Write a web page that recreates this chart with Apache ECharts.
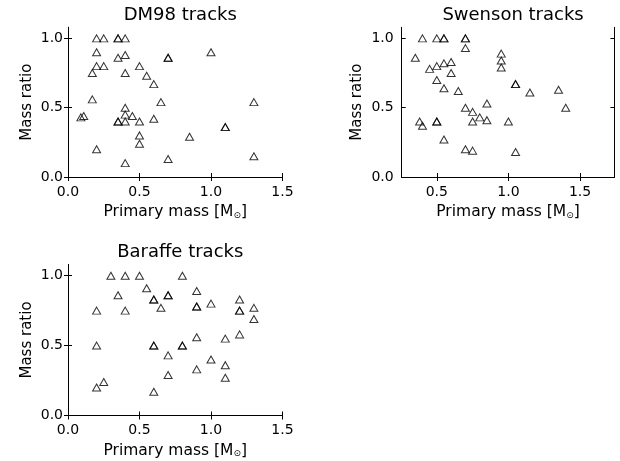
<!DOCTYPE html>
<html>
<head>
<meta charset="utf-8">
<script src="https://cdn.jsdelivr.net/npm/echarts@6/dist/echarts.min.js"></script>
<style>html,body{margin:0;padding:0;background:#fff;}#c{width:620px;height:461px;}</style>
</head>
<body>
<div id="c"></div>
<script>
// ---- data ----
const titles = ['DM98 tracks', 'Swenson tracks', 'Baraffe tracks'];
const xTickLabels1 = [0.0, 0.5, 1.0, 1.5];
const xTickLabels2 = [0.5, 1.0, 1.5];
const yTickLabels = [0.0, 0.5, 1.0];

const dm98Mass  = [0.2,0.25,0.35,0.35,0.4, 0.2,0.35,0.4,0.7,0.7,1.0, 0.2,0.25,0.17,0.4,0.5,0.55,0.6, 0.17,0.4,0.65,1.3, 0.09,0.11,0.4,0.45, 0.35,0.35,0.4,0.5,0.6, 0.5,0.5,0.85,1.1,1.1, 0.2,0.4,0.7,1.3];
const dm98Ratio = [1.0,1.0,1.0,1.0,1.0, 0.9,0.86,0.88,0.86,0.86,0.9, 0.8,0.8,0.75,0.75,0.8,0.73,0.67, 0.56,0.5,0.54,0.54, 0.43,0.44,0.45,0.44, 0.4,0.4,0.4,0.4,0.42, 0.3,0.24,0.29,0.36,0.36, 0.2,0.1,0.13,0.15];

const swensonMass  = [0.4,0.5,0.55,0.55,0.7,0.7,0.7, 0.35,0.45,0.5,0.55,0.6,0.6,0.5,0.55,0.65, 0.95,0.95,0.95,1.05,1.05,1.15,1.35,1.4, 0.38,0.4,0.5,0.5,0.55, 0.7,0.75,0.8,0.85,0.85,0.75,1.0, 0.7,0.75,1.05];
const swensonRatio = [1.0,1.0,1.0,1.0,1.0,1.0,0.93, 0.86,0.78,0.8,0.82,0.83,0.75,0.7,0.64,0.62, 0.89,0.84,0.79,0.67,0.67,0.61,0.63,0.5, 0.4,0.37,0.4,0.4,0.27, 0.5,0.47,0.43,0.53,0.41,0.4,0.4, 0.2,0.19,0.18];

const baraffeMass  = [0.3,0.4,0.5,0.8,0.55,0.35,0.6,0.6,0.7,0.7,0.65,0.9,0.9,0.9,1.0,1.2,1.2,1.2,1.3,1.3,0.2,0.4, 0.2,0.6,0.6,0.8,0.8,0.7,0.9,1.1,1.2,1.0,1.1,1.1,0.9,0.7,0.2,0.25,0.6];
const baraffeRatio = [1.0,1.0,1.0,1.0,0.91,0.86,0.83,0.83,0.86,0.86,0.77,0.89,0.78,0.78,0.8,0.83,0.75,0.75,0.77,0.69,0.75,0.75, 0.5,0.5,0.5,0.5,0.5,0.43,0.56,0.55,0.58,0.4,0.36,0.27,0.33,0.29,0.2,0.24,0.17];

const panels = [
  {mass: dm98Mass, ratio: dm98Ratio, xmin: 0, xmax: 1.5, xticks: xTickLabels1,
   grid: {left: 68, top: 27.3, width: 214.5, height: 149.7}, ylabMargin: 5, yNameGap: 33, titleTop: 1},
  {mass: swensonMass, ratio: swensonRatio, xmin: 0.255, xmax: 1.74, xticks: xTickLabels2,
   grid: {left: 401.7, top: 27.3, width: 212.7, height: 149.7}, ylabMargin: 8, yNameGap: 37, titleTop: 1},
  {mass: baraffeMass, ratio: baraffeRatio, xmin: 0, xmax: 1.5, xticks: xTickLabels1,
   grid: {left: 68, top: 264.5, width: 214.5, height: 151}, ylabMargin: 5, yNameGap: 33, titleTop: 238}
];

const FONT = 'DejaVu Sans';
const fmt = v => Number(v).toFixed(1);
const tickStyle = {show: true, inside: true, length: 4, lineStyle: {color: '#000', width: 1}};
const lineStyle = {show: true, lineStyle: {color: '#000', width: 1}};

const option = {
  animation: false,
  backgroundColor: '#fff',
  title: [], grid: [], xAxis: [], yAxis: [], series: []
};

panels.forEach((p, i) => {
  option.title.push({
    text: titles[i], left: p.grid.left + p.grid.width / 2, top: p.titleTop, textAlign: 'center',
    textStyle: {fontFamily: FONT, fontSize: 18, fontWeight: 'normal', color: '#000'}
  });
  option.grid.push(Object.assign({containLabel: false}, p.grid));
  option.xAxis.push({
    type: 'value', gridIndex: i, position: 'bottom', min: p.xmin, max: p.xmax,
    axisLine: lineStyle, splitLine: {show: false},
    axisTick: Object.assign({customValues: p.xticks}, tickStyle),
    axisLabel: {customValues: p.xticks, formatter: fmt, margin: 8, fontFamily: FONT, fontSize: 14, color: '#000'},
    name: '{a|Primary mass [M}{s|⊙}{a|]}', nameLocation: 'middle', nameGap: 27,
    nameTextStyle: {rich: {
      a: {fontFamily: FONT, fontSize: 15.5, color: '#000'},
      s: {fontFamily: FONT, fontSize: 9, color: '#000', verticalAlign: 'bottom', padding: [6, 0, 0, 0]}
    }}
  });
  option.xAxis.push({
    type: 'value', gridIndex: i, position: 'top', min: p.xmin, max: p.xmax,
    axisLine: lineStyle, splitLine: {show: false},
    axisTick: Object.assign({customValues: p.xticks}, tickStyle),
    axisLabel: {show: false}
  });
  option.yAxis.push({
    type: 'value', gridIndex: i, position: 'left', min: 0, max: 1.08,
    axisLine: lineStyle, splitLine: {show: false},
    axisTick: Object.assign({customValues: yTickLabels}, tickStyle),
    axisLabel: {customValues: yTickLabels, formatter: fmt, margin: p.ylabMargin, fontFamily: FONT, fontSize: 14, color: '#000'},
    name: 'Mass ratio', nameLocation: 'middle', nameGap: p.yNameGap,
    nameTextStyle: {fontFamily: FONT, fontSize: 15, color: '#000'}
  });
  option.yAxis.push({
    type: 'value', gridIndex: i, position: 'right', min: 0, max: 1.08,
    axisLine: lineStyle, splitLine: {show: false},
    axisTick: Object.assign({customValues: yTickLabels}, tickStyle),
    axisLabel: {show: false}
  });
  option.series.push({
    type: 'scatter', xAxisIndex: 2 * i, yAxisIndex: 2 * i,
    symbol: 'triangle', symbolSize: [8, 7],
    itemStyle: {color: 'rgba(255,255,255,0)', borderColor: '#000', borderWidth: 1},
    data: p.mass.map((m, k) => [m, p.ratio[k]])
  });
});

const chart = echarts.init(document.getElementById('c'), null, {renderer: 'canvas'});
chart.setOption(option);
</script>
</body>
</html>
